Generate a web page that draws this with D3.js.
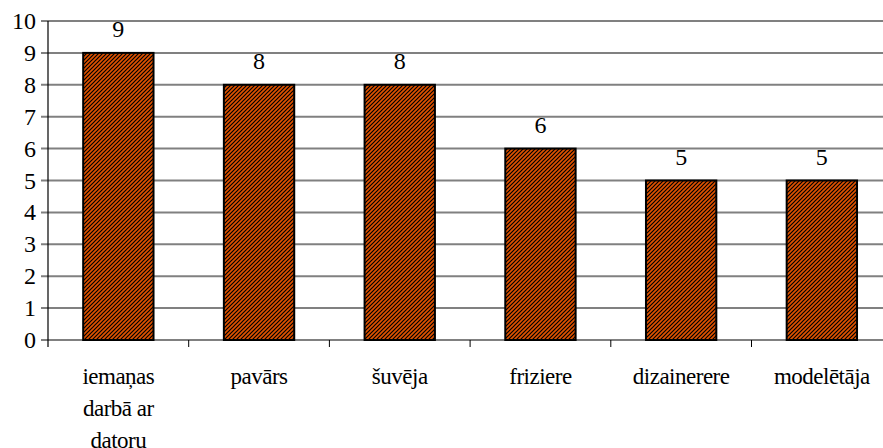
<!DOCTYPE html>
<html>
<head>
<meta charset="utf-8">
<script src="https://cdnjs.cloudflare.com/ajax/libs/d3/7.8.5/d3.min.js"></script>
<style>
    svg text { font-family: "Liberation Serif", monospace !important; }
</style>
</head>
<body style="margin:0">
<svg id="chart" width="883" height="448"></svg>
<script>
(function() {

    var categories = [
        ['iemaņas', 'darbā ar', 'datoru'],
        ['pavārs'],
        ['šuvēja'],
        ['friziere'],
        ['dizainerere'],
        ['modelētāja']
    ];
    var values = [9, 8, 8, 6, 5, 5];
    var yTicks = [0, 1, 2, 3, 4, 5, 6, 7, 8, 9, 10];

    var font = '"Liberation Serif", monospace';

    var x0 = 48,
        bandW = 140.7,
        yTop = 21,
        yBottom = 340;

    var svg = d3.select('#chart');

    // hatch fill like the old office chart
    var pat = svg.append('defs').append('pattern')
        .attr('id', 'hatch')
        .attr('patternUnits', 'userSpaceOnUse')
        .attr('width', 4)
        .attr('height', 4);
    pat.append('rect').attr('width', 4).attr('height', 4).attr('fill', '#e05200');
    pat.append('path')
        .attr('d', 'M-1,1 l2,-2 M0,4 l4,-4 M3,5 l2,-2')
        .attr('stroke', '#000')
        .attr('stroke-width', 1.2);

    var x = d3.scaleBand()
        .domain(d3.range(categories.length))
        .range([x0, x0 + bandW * categories.length])
        .paddingInner(0.5)
        .paddingOuter(0.25);

    var y = d3.scaleLinear()
        .domain([0, 10])
        .range([yBottom, yTop]);

    // gridlines
    svg.append('g')
        .selectAll('line')
        .data(yTicks)
        .enter()
        .append('line')
        .attr('x1', x0 - 7)
        .attr('x2', 883)
        .attr('y1', function(d) { return y(d); })
        .attr('y2', function(d) { return y(d); })
        .attr('stroke', '#808080')
        .attr('stroke-width', 2);

    // y labels
    svg.append('g')
        .selectAll('text')
        .data(yTicks)
        .enter()
        .append('text')
        .attr('x', 36)
        .attr('y', function(d) { return y(d) + 8; })
        .attr('text-anchor', 'end')
        .style('font-family', font)
        .style('font-size', '24px')
        .text(function(d) { return d; });

    // x tick marks at category boundaries
    svg.append('g')
        .selectAll('line')
        .data(d3.range(1, categories.length + 1))
        .enter()
        .append('line')
        .attr('x1', function(i) { return x0 + bandW * i; })
        .attr('x2', function(i) { return x0 + bandW * i; })
        .attr('y1', yBottom)
        .attr('y2', yBottom + 7)
        .attr('stroke', '#000')
        .attr('stroke-width', 1);

    // y axis line
    svg.append('line')
        .attr('x1', x0).attr('x2', x0)
        .attr('y1', yTop).attr('y2', yBottom + 7)
        .attr('stroke', '#000')
        .attr('stroke-width', 1.2);

    // bars
    svg.append('g')
        .selectAll('rect')
        .data(values)
        .enter()
        .append('rect')
        .attr('x', function(d, i) { return x(i); })
        .attr('width', x.bandwidth())
        .attr('y', function(d) { return y(d); })
        .attr('height', function(d) { return y(0) - y(d); })
        .attr('fill', 'url(#hatch)')
        .attr('stroke', '#000')
        .attr('stroke-width', 2);

    // value labels
    svg.append('g')
        .selectAll('text')
        .data(values)
        .enter()
        .append('text')
        .attr('x', function(d, i) { return x(i) + x.bandwidth() / 2; })
        .attr('y', function(d) { return y(d) - 16; })
        .attr('text-anchor', 'middle')
        .style('font-family', font)
        .style('font-size', '24px')
        .text(function(d) { return d; });

    // category labels
    var cat = svg.append('g')
        .selectAll('text')
        .data(categories)
        .enter()
        .append('text')
        .attr('text-anchor', 'middle')
        .style('font-family', font)
        .style('font-size', '23px')
        .style('letter-spacing', '-0.5px')
        .attr('x', function(d, i) { return x(i) + x.bandwidth() / 2; })
        .attr('y', 384);

    cat.selectAll('tspan')
        .data(function(d) { return d; })
        .enter()
        .append('tspan')
        .attr('x', function() { return d3.select(this.parentNode).attr('x'); })
        .attr('dy', function(d, j) { return j === 0 ? 0 : 32; })
        .text(function(d) { return d; });

})();
</script>
</body>
</html>
